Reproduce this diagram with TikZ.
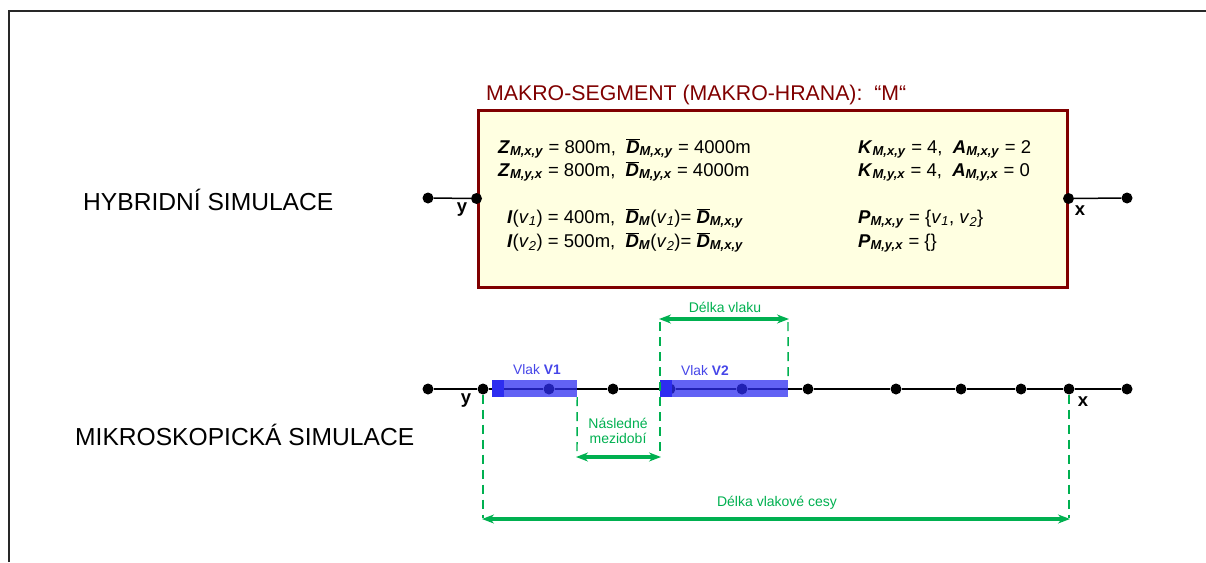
\documentclass[tikz,border=0pt]{standalone}
\usepackage{fontspec}
\setmainfont{Liberation Sans}
\usetikzlibrary{arrows.meta}
\definecolor{mkred}{RGB}{128,0,0}
\definecolor{boxfill}{RGB}{255,255,225}
\definecolor{grn}{RGB}{0,176,80}
\definecolor{trainblue}{RGB}{45,45,240}
\definecolor{lblblue}{RGB}{70,70,232}
\definecolor{framegray}{RGB}{40,40,40}
\newcommand\bi[1]{\textbf{\textit{#1}}}
\newcommand\sbi[1]{\textsubscript{\bi{#1}}}
\newcommand\Dbar{\ensuremath{\overline{\hbox{\bi{D}}}}}
\newcommand\vv[1]{\textit{v}\textsubscript{\textit{#1}}}
\newcommand\fs[1]{\fontsize{#1}{#1}\selectfont}
\begin{document}
\begin{tikzpicture}[x=1pt,y=-1pt,
  dot/.style={circle,fill=black,inner sep=0pt,minimum size=11pt},
  track/.style={line width=1.5pt,black},
  macrobox/.style={draw=mkred,fill=boxfill,line width=3pt,inner sep=0pt},
  boxtxt/.style={anchor=base west,inner sep=0pt,font=\fs{18.5}},
  bigtxt/.style={anchor=west,inner sep=0pt,font=\fs{24.6}},
  endtxt/.style={inner sep=0pt,font=\fs{18.5}\bfseries},
  train/.style={fill=trainblue,fill opacity=0.75,draw=none,inner sep=0pt,minimum height=17pt},
  trainhead/.style={fill=trainblue,draw=none,inner sep=0pt,minimum height=17pt,minimum width=12pt},
  trainlbl/.style={inner sep=0pt,text=lblblue,font=\fs{13.8}},
  dim/.style={grn,line width=1.4pt,dash pattern=on 9pt off 6pt},
  dimarrow/.style={grn,line width=4pt,{Stealth[length=12pt,width=9pt]}-{Stealth[length=12pt,width=9pt]},shorten <=-1pt,shorten >=-1pt},
  dimtxt/.style={inner sep=0pt,text=grn,font=\fs{14},align=center}]
\useasboundingbox (0,0) rectangle (1206,562);
% frame
\draw[framegray,line width=1.6pt] (9,562) -- (9,11) -- (1206,11);

% ---------- hybrid simulation ----------
\node[bigtxt] (hyb) at (83,200) {HYBRIDNÍ SIMULACE};
\node[anchor=base west,inner sep=0pt,text=mkred,font=\fs{21.3}] (title) at (486,100) {MAKRO-SEGMENT (MAKRO-HRANA):~~“M“};
\node[macrobox,minimum width=589pt,minimum height=177pt] (box) at (772.5,198.5) {};
\node[dot] (hl) at (428,198) {};
\node[dot] (hy) at (box.west) {};
\node[dot] (hx) at (box.east) {};
\node[dot] (hr) at (1127,198) {};
\draw[track] (hl) -- (hy);
\draw[track] (hx) -- (hr);
\node[endtxt] (hylbl) at (462,210) {y};
\node[endtxt] (hxlbl) at (1080,211) {x};

\node[boxtxt] (t1) at (498,153) {\bi{Z}\sbi{M,x,y} = 800m,~~\Dbar\sbi{M,x,y} = 4000m};
\node[boxtxt] (t2) at (498,176) {\bi{Z}\sbi{M,y,x} = 800m,~~\Dbar\sbi{M,y,x} = 4000m};
\node[boxtxt] (t3) at (507,223) {\bi{I}(\vv{1}) = 400m,~~\Dbar\sbi{M}(\vv{1})= \Dbar\sbi{M,x,y}};
\node[boxtxt] (t4) at (507,247) {\bi{I}(\vv{2}) = 500m,~~\Dbar\sbi{M}(\vv{2})= \Dbar\sbi{M,x,y}};
\node[boxtxt] (r1) at (858,153) {\bi{K}\sbi{M,x,y} = 4,~~\bi{A}\sbi{M,x,y} = 2};
\node[boxtxt] (r2) at (858,176) {\bi{K}\sbi{M,y,x} = 4,~~\bi{A}\sbi{M,y,x} = 0};
\node[boxtxt] (r3) at (858,223) {\bi{P}\sbi{M,x,y} = \{\vv{1}, \vv{2}\}};
\node[boxtxt] (r4) at (858,247) {\bi{P}\sbi{M,y,x} = \{\}};

% ---------- microscopic simulation ----------
\node[bigtxt] (mik) at (75,435) {MIKROSKOPICKÁ SIMULACE};
\foreach \n/\x in {0/428,1/483,2/549,3/613,4/670,5/742,6/808,7/896,8/961,9/1021,10/1069,11/1127}
  \node[dot] (m\n) at (\x,389) {};
\draw[track] (m0) -- (m1) -- (m2) -- (m3) -- (m4) -- (m5) -- (m6) -- (m7) -- (m8) -- (m9) -- (m10) -- (m11);
\node[endtxt] (mylbl) at (466,401) {y};
\node[endtxt] (mxlbl) at (1083,402) {x};

% trains
\node[train,minimum width=85pt] (v1) at (534.5,388.5) {};
\node[trainhead,anchor=west] (v1h) at (v1.west) {};
\node[train,minimum width=128pt] (v2) at (724,388.5) {};
\node[trainhead,anchor=west] (v2h) at (v2.west) {};
\node[trainlbl] (v1l) at (537,370) {Vlak \textbf{V1}};
\node[trainlbl] (v2l) at (705,371) {Vlak \textbf{V2}};

% dimensions
\coordinate (a1) at (660,322);
\coordinate (a2) at (788,322);
\coordinate (a3) at (660,456);
\coordinate (b1) at (577,456);
\coordinate (c1) at (483,518);
\coordinate (c2) at (1069,518);
\draw[dim] (a1) -- (a3);
\draw[dim] (a2) -- (v2.north east);
\draw[dim] (v1.south east) -- (b1);
\draw[dim] (m1) -- (c1);
\draw[dim] (m10) -- (c2);
\draw[dimarrow] ([yshift=3pt]a1) -- ([yshift=3pt]a2);
\draw[dimarrow] ([yshift=-1pt]b1) -- ([yshift=-1pt]a3);
\draw[dimarrow] ([yshift=-1pt]c1) -- ([yshift=-1pt]c2);
\node[dimtxt] (dl) at (725,307) {Délka vlaku};
\node[dimtxt] (nm) at (618,431) {Následné\\[1pt]mezidobí};
\node[dimtxt] (dc) at (777,503) {Délka vlakové cesy};
\end{tikzpicture}
\end{document}
